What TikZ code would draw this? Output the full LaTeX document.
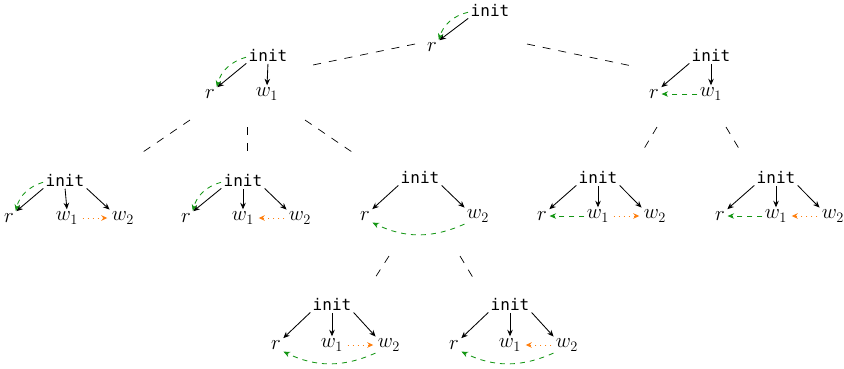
\documentclass[tikz,border=0pt]{standalone}
\usepackage{fontspec}
\setmonofont{DejaVu Sans Mono}
\usetikzlibrary{arrows.meta}
\definecolor{grn}{RGB}{20,150,20}
\definecolor{org}{RGB}{255,127,14}
\begin{document}
\begin{tikzpicture}[x=1pt,y=-1pt,
  font=\fontsize{16}{19}\selectfont,
  lab/.style={inner sep=1.5pt,font=\fontsize{21}{25}\selectfont},
  ini/.style={inner sep=1.5pt,font=\fontsize{16}{19}\selectfont\ttfamily},
  ch/.style={-{Stealth[length=6.5pt,width=5.5pt]},line width=0.85pt,shorten >=1pt,shorten <=1pt},
  gr/.style={-{Stealth[length=6.5pt,width=5.5pt]},grn,line width=0.85pt,dash pattern=on 5pt off 5pt,shorten >=1pt,shorten <=1pt},
  og/.style={-{Stealth[length=6pt,width=5.5pt]},org,line width=0.85pt,dash pattern=on 1pt off 4pt,shorten >=3pt,shorten <=3pt},
  tree/.style={line width=0.7pt,dash pattern=on 8pt off 8pt}]
\useasboundingbox (0,0) rectangle (844,368);
% T0
\node[ini] (i0) at (490,10) {init};
\node[lab] (r0) at (432,47) {$r$};
\draw[ch] (i0.south west) -- (r0.north east);
\draw[gr] ([yshift=-2pt]i0.west) to[bend right=30] (r0.north east);
% T1
\node[ini] (i1) at (268,55) {init};
\node[lab] (r1) at (210,94) {$r$};
\node[lab] (a1) at (267,94) {$w_1$};
\draw[ch] (i1.south west) -- (r1.north east);
\draw[ch] (i1.south) -- (a1.north);
\draw[gr] ([yshift=-2pt]i1.west) to[bend right=30] (r1.north east);
% T2
\node[ini] (i2) at (711,55) {init};
\node[lab] (r2) at (654,94) {$r$};
\node[lab] (a2) at (711,94) {$w_1$};
\draw[ch] (i2.south west) -- (r2.north east);
\draw[ch] (i2.south) -- (a2.north);
\draw[gr] (a2.west) -- (r2.east);
% T3
\node[ini] (i3) at (65,180) {init};
\node[lab] (r3) at (9,218) {$r$};
\node[lab] (a3) at (67,218) {$w_1$};
\node[lab] (b3) at (123,218) {$w_2$};
\draw[ch] (i3.south west) -- (r3.north east);
\draw[ch] (i3.south) -- (a3.north);
\draw[ch] (i3.south east) -- (b3.north west);
\draw[gr] ([yshift=-2pt]i3.west) to[bend right=30] (r3.north east);
\draw[og] (a3.east) -- (b3.west);
% T4
\node[ini] (i4) at (243,180) {init};
\node[lab] (r4) at (186,218) {$r$};
\node[lab] (a4) at (243,218) {$w_1$};
\node[lab] (b4) at (300,218) {$w_2$};
\draw[ch] (i4.south west) -- (r4.north east);
\draw[ch] (i4.south) -- (a4.north);
\draw[ch] (i4.south east) -- (b4.north west);
\draw[gr] ([yshift=-2pt]i4.west) to[bend right=30] (r4.north east);
\draw[og] (b4.west) -- (a4.east);
% T5
\node[ini] (i5) at (420,177) {init};
\node[lab] (r5) at (365,216) {$r$};
\node[lab] (b5) at (478,216) {$w_2$};
\draw[ch] (i5.south west) -- (r5.north east);
\draw[ch] (i5.south east) -- (b5.north west);
\draw[gr] (b5.south west) to[bend left=25] (r5.south east);
% T6
\node[ini] (i6) at (598,177) {init};
\node[lab] (r6) at (542,216) {$r$};
\node[lab] (a6) at (598,216) {$w_1$};
\node[lab] (b6) at (655,216) {$w_2$};
\draw[ch] (i6.south west) -- (r6.north east);
\draw[ch] (i6.south) -- (a6.north);
\draw[ch] (i6.south east) -- (b6.north west);
\draw[gr] (a6.west) -- (r6.east);
\draw[og] (a6.east) -- (b6.west);
% T7
\node[ini] (i7) at (776,177) {init};
\node[lab] (r7) at (720,216) {$r$};
\node[lab] (a7) at (776,216) {$w_1$};
\node[lab] (b7) at (833,216) {$w_2$};
\draw[ch] (i7.south west) -- (r7.north east);
\draw[ch] (i7.south) -- (a7.north);
\draw[ch] (i7.south east) -- (b7.north west);
\draw[gr] (a7.west) -- (r7.east);
\draw[og] (b7.west) -- (a7.east);
% T8
\node[ini] (i8) at (332,304) {init};
\node[lab] (r8) at (276,345) {$r$};
\node[lab] (a8) at (332,345) {$w_1$};
\node[lab] (b8) at (389,345) {$w_2$};
\draw[ch] (i8.south west) -- (r8.north east);
\draw[ch] (i8.south) -- (a8.north);
\draw[ch] (i8.south east) -- (b8.north west);
\draw[gr] (b8.south west) to[bend left=25] (r8.south east);
\draw[og] (a8.east) -- (b8.west);
% T9
\node[ini] (i9) at (510,304) {init};
\node[lab] (r9) at (454,345) {$r$};
\node[lab] (a9) at (510,345) {$w_1$};
\node[lab] (b9) at (567,345) {$w_2$};
\draw[ch] (i9.south west) -- (r9.north east);
\draw[ch] (i9.south) -- (a9.north);
\draw[ch] (i9.south east) -- (b9.north west);
\draw[gr] (b9.south west) to[bend left=25] (r9.south east);
\draw[og] (b9.west) -- (a9.east);
% tree edges
\coordinate (e1a) at (415,44); \coordinate (e1b) at (308,66);
\coordinate (e2a) at (527,44); \coordinate (e2b) at (632,66);
\coordinate (e3a) at (190,120); \coordinate (e3b) at (143,152);
\coordinate (e4a) at (247,127); \coordinate (e4b) at (247,153);
\coordinate (e5a) at (305,120); \coordinate (e5b) at (352,152);
\coordinate (e6a) at (657,127); \coordinate (e6b) at (642,152);
\coordinate (e7a) at (726,127); \coordinate (e7b) at (741,152);
\coordinate (e8a) at (389,256); \coordinate (e8b) at (373,281);
\coordinate (e9a) at (460,256); \coordinate (e9b) at (475,281);
\foreach \a/\b in {e1a/e1b,e2a/e2b,e3a/e3b,e4a/e4b,e5a/e5b,e6a/e6b,e7a/e7b,e8a/e8b,e9a/e9b}
  \draw[tree] (\a) -- (\b);
\end{tikzpicture}
\end{document}
